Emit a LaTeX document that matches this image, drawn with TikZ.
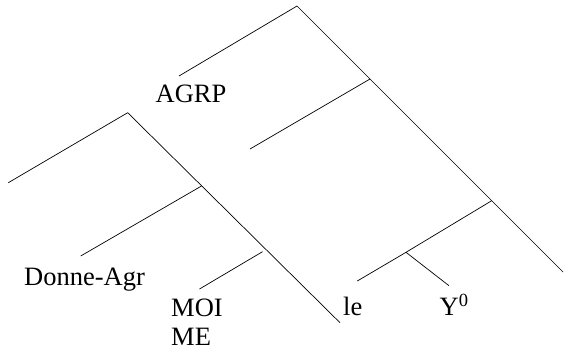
\documentclass[tikz,border=0pt]{standalone}
\usepackage{fontspec}
\setmainfont{Liberation Serif}
\usetikzlibrary{positioning,calc}

\begin{document}
\begin{tikzpicture}[x=1pt, y=-1pt,
    branch/.style={line width=0.7pt},
    lab/.style={anchor=base west, inner sep=0pt, font=\fontsize{26.5}{29}\selectfont}]
    \useasboundingbox (0,0) rectangle (564,351);

    % Upper tree
    \coordinate (top) at (297,6);
    \coordinate (agrpEnd) at (179,76);
    \coordinate (topEnd) at (563,272);
    \coordinate (a) at (370,79);
    \coordinate (aEnd) at (250,149);
    \coordinate (b) at (491.7,200.7);
    \coordinate (c) at (406,252.3);
    \coordinate (cLeft) at (357.3,281);
    \coordinate (cRight) at (449,285.7);
    \draw[branch] (agrpEnd) -- (top) -- (topEnd);
    \draw[branch] (a) -- (aEnd);
    \draw[branch] (b) -- (c) -- (cLeft);
    \draw[branch] (c) -- (cRight);

    % Lower tree
    \coordinate (d) at (127.7,112.7);
    \coordinate (dLeft) at (8.3,182.7);
    \coordinate (dEnd) at (340,322.7);
    \coordinate (e) at (201.5,186);
    \coordinate (eEnd) at (80.7,256);
    \coordinate (f) at (262.5,251.7);
    \coordinate (fEnd) at (199.5,289);
    \draw[branch] (dLeft) -- (d) -- (dEnd);
    \draw[branch] (e) -- (eEnd);
    \draw[branch] (f) -- (fEnd);

    % Labels
    \node[lab] (agrp) at (155.5,102.7) {AGRP};
    \node[lab] (donne) at (24,285) {Donne-Agr};
    \node[lab] (moi) at (171,316) {MOI};
    \node[lab] (me) at (171,345) {ME};
    \node[lab] (le) at (343,315.7) {le};
    \node[lab] (y0) at (439.5,315.7) {Y\textsuperscript{0}};
\end{tikzpicture}
\end{document}
